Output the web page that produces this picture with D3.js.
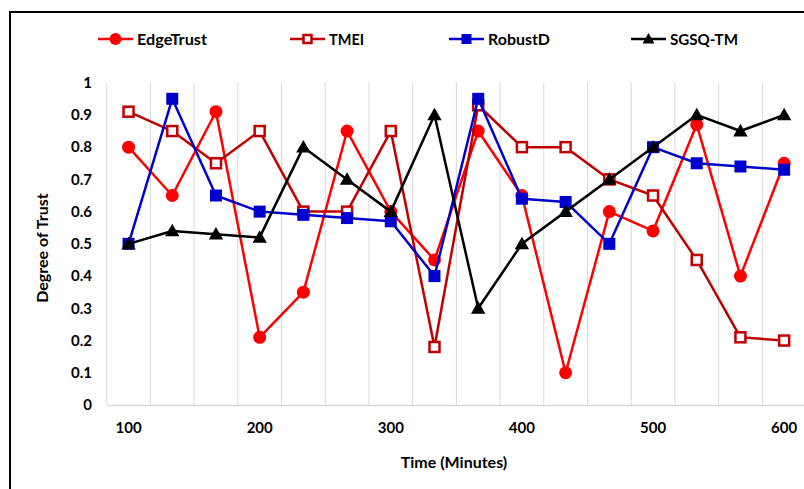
<!DOCTYPE html>
<html><head><meta charset="utf-8">
<script src="https://cdn.jsdelivr.net/npm/d3@7/dist/d3.min.js"></script>
<style>body{margin:0;background:#fff}svg{display:block}text{font-family:Lato,"Open Sans",sans-serif;font-weight:bold;fill:#000}</style>
</head><body><svg id="c" width="804" height="489"></svg>
<script>
const minutes = [100,133,167,200,233,267,300,333,367,400,433,467,500,533,567,600];
const tickLabels = [100,200,300,400,500,600];
const yTicks = [0,0.1,0.2,0.3,0.4,0.5,0.6,0.7,0.8,0.9,1];
const edgeTrust = [0.8,0.65,0.91,0.21,0.35,0.85,0.6,0.45,0.85,0.65,0.1,0.6,0.54,0.87,0.4,0.75];
const tmei      = [0.91,0.85,0.75,0.85,0.6,0.6,0.85,0.18,0.93,0.8,0.8,0.7,0.65,0.45,0.21,0.2];
const robustD   = [0.5,0.95,0.65,0.6,0.59,0.58,0.57,0.4,0.95,0.64,0.63,0.5,0.8,0.75,0.74,0.73];
const sgsqTM    = [0.5,0.54,0.53,0.52,0.8,0.7,0.6,0.9,0.3,0.5,0.6,0.7,0.8,0.9,0.85,0.9];
const seriesNames = ["EdgeTrust","TMEI","RobustD","SGSQ-TM"];

const series = [
  {name:seriesNames[0], values:edgeTrust, color:"#ff0000", marker:"circle"},
  {name:seriesNames[1], values:tmei, color:"#c00000", marker:"hollowSquare"},
  {name:seriesNames[2], values:robustD, color:"#0000cc", marker:"square"},
  {name:seriesNames[3], values:sgsqTM, color:"#000000", marker:"triangle"}
];

const svg = d3.select("#c");
svg.append("rect").attr("x",10).attr("y",12).attr("width",840).attr("height",520)
  .attr("fill","none").attr("stroke","#000").attr("stroke-width",2);

const x = d3.scaleBand().domain(minutes).range([106.7, 806]).padding(0);
const y = d3.scaleLinear().domain([0,1]).range([405, 82.7]);
const cx = d => x(d) + x.bandwidth()/2;

const g = svg.append("g");
g.selectAll("line.grid").data(minutes).enter().append("line")
  .attr("x1",d=>x(d)).attr("x2",d=>x(d)).attr("y1",y(1)).attr("y2",y(0))
  .attr("stroke","#d9d9d9").attr("stroke-width",1);

const xAxis = d3.axisBottom(x).tickValues(tickLabels).tickSize(0).tickPadding(17).tickFormat(d=>d);
const xg = svg.append("g").attr("transform",`translate(0,${y(0)})`).call(xAxis);
xg.select(".domain").attr("stroke","#d9d9d9").attr("stroke-width",1.5);
xg.selectAll("text").style("font-size","15px").style("font-family","Lato").style("font-weight","bold");

const yAxis = d3.axisLeft(y).tickValues(yTicks).tickSize(0).tickPadding(0).tickFormat(d=>d3.format("")(+d.toFixed(1)));
const yg = svg.append("g").attr("transform",`translate(92,0)`).call(yAxis);
yg.select(".domain").remove();
yg.selectAll("text").style("font-size","15px").style("font-family","Lato").style("font-weight","bold");

svg.append("text").attr("x",454).attr("y",468).attr("text-anchor","middle").style("font-size","16px").text("Time (Minutes)");
svg.append("text").attr("transform","translate(48,248) rotate(-90)").attr("text-anchor","middle").style("font-size","16px").text("Degree of Trust");

function drawMarker(sel, type, color, size){
  if(type==="circle"){
    sel.append("circle").attr("r",size/2).attr("fill",color);
  } else if(type==="square"){
    sel.append("rect").attr("x",-size/2).attr("y",-size/2).attr("width",size).attr("height",size).attr("fill",color);
  } else if(type==="hollowSquare"){
    const s=size-2;
    sel.append("rect").attr("x",-s/2).attr("y",-s/2).attr("width",s).attr("height",s).attr("fill","#fff").attr("stroke",color).attr("stroke-width",2.5);
  } else if(type==="triangle"){
    const s=size;
    sel.append("path").attr("d",`M0,${-s*0.6}L${s*0.6},${s*0.45}L${-s*0.6},${s*0.45}Z`).attr("fill",color);
  }
}

const line = d3.line().x((d,i)=>cx(minutes[i])).y(d=>y(d));
series.forEach(s=>{
  const sg = svg.append("g");
  sg.append("path").datum(s.values).attr("d",line).attr("fill","none").attr("stroke",s.color).attr("stroke-width",2.5).attr("stroke-linejoin","round");
  s.values.forEach((v,i)=>{
    const m = sg.append("g").attr("transform",`translate(${cx(minutes[i])},${y(v)})`);
    drawMarker(m, s.marker, s.color, s.marker==="circle"?13:12);
  });
});

const legendPos = [98, 290, 449, 631];
const legendTextW = [70, 35, 62, 68];
series.forEach((s,i)=>{
  const lg = svg.append("g").attr("transform",`translate(${legendPos[i]},39)`);
  lg.append("line").attr("x1",0).attr("x2",35).attr("y1",0).attr("y2",0).attr("stroke",s.color).attr("stroke-width",2.5);
  const m = lg.append("g").attr("transform","translate(17.5,0)");
  drawMarker(m, s.marker, s.color, s.marker==="circle"?12:10);
  lg.append("text").attr("x",39).attr("y",5.5).style("font-size","15px").attr("textLength",legendTextW[i]).attr("lengthAdjust","spacingAndGlyphs").text(s.name);
});
</script></body></html>
